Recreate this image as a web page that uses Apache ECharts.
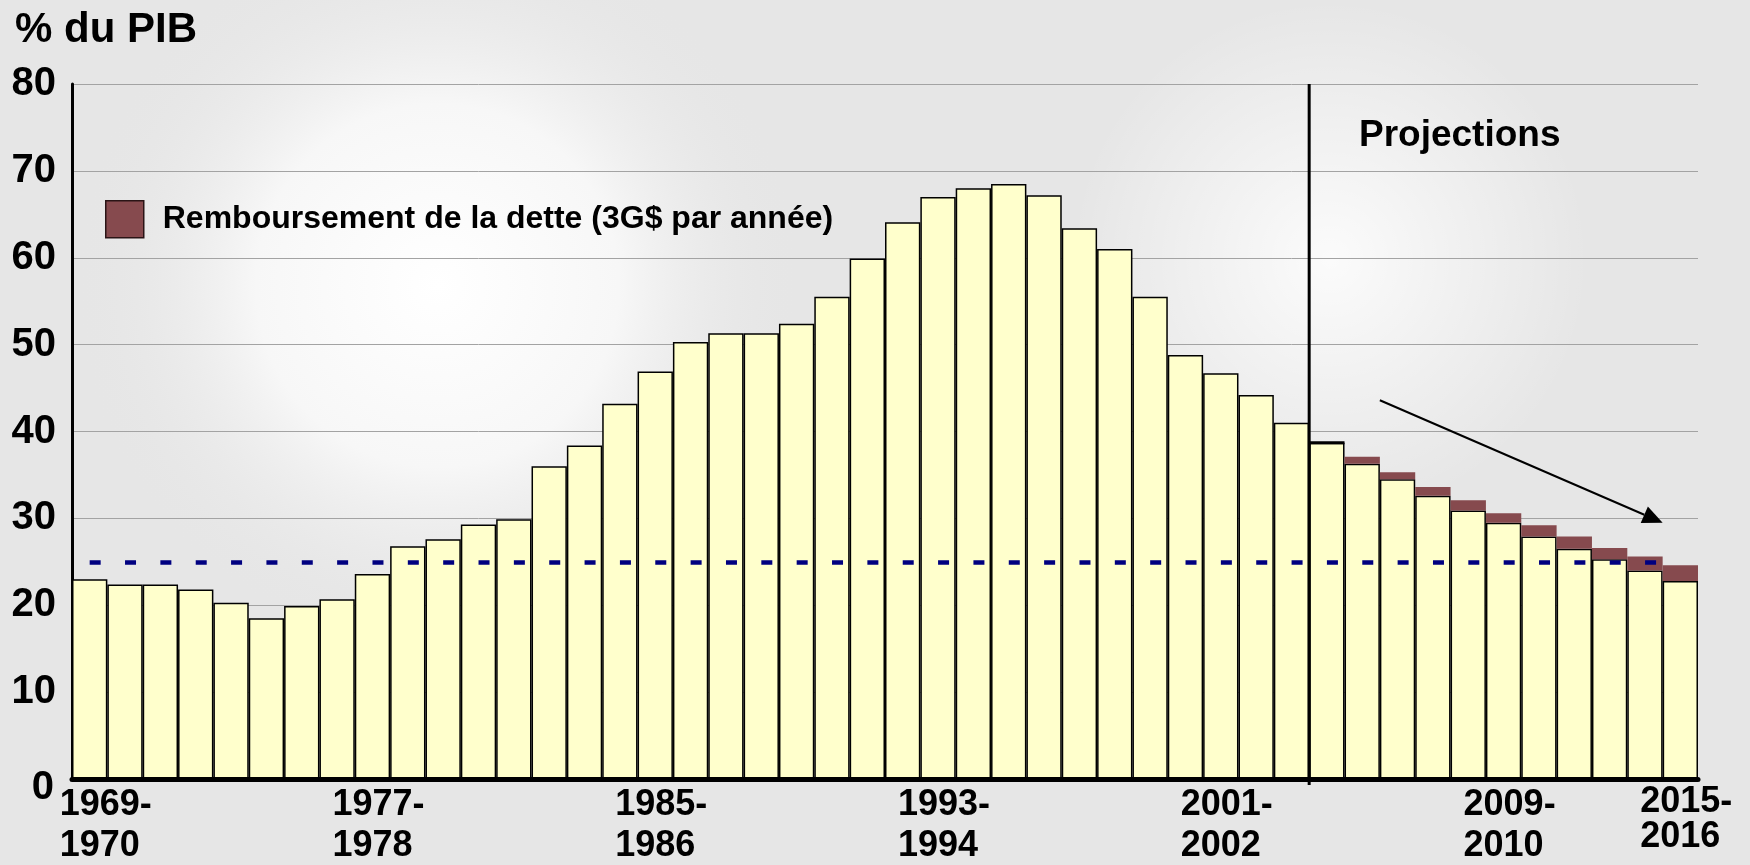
<!DOCTYPE html>
<html>
<head>
<meta charset="utf-8">
<script src="https://cdn.jsdelivr.net/npm/echarts@6/dist/echarts.min.js"></script>
<style>
  html, body { margin: 0; padding: 0; }
  #chart { width: 1750px; height: 865px; }
</style>
</head>
<body>
<div id="chart"></div>
<script>
// fiscal years, one bar each
const categories = [
  '1969-1970', '1970-1971', '1971-1972', '1972-1973', '1973-1974', '1974-1975',
  '1975-1976', '1976-1977', '1977-1978', '1978-1979', '1979-1980', '1980-1981',
  '1981-1982', '1982-1983', '1983-1984', '1984-1985', '1985-1986', '1986-1987',
  '1987-1988', '1988-1989', '1989-1990', '1990-1991', '1991-1992', '1992-1993',
  '1993-1994', '1994-1995', '1995-1996', '1996-1997', '1997-1998', '1998-1999',
  '1999-2000', '2000-2001', '2001-2002', '2002-2003', '2003-2004', '2004-2005',
  '2005-2006', '2006-2007', '2007-2008', '2008-2009', '2009-2010', '2010-2011',
  '2011-2012', '2012-2013', '2013-2014', '2014-2015'
];

// dette en % du PIB
const debtValues = [
  23.0, 22.4, 22.4, 21.8, 20.3, 18.5, 19.9, 20.7, 23.6, 26.8, 27.6, 29.3,
  29.9, 36.0, 38.4, 43.2, 46.9, 50.3, 51.3, 51.3, 52.4, 55.5, 59.9, 64.1,
  67.0, 68.0, 68.5, 67.2, 63.4, 61.0, 55.5, 48.8, 46.7, 44.2, 41.0, 38.7,
  36.3, 34.5, 32.6, 30.9, 29.5, 27.9, 26.5, 25.3, 24.0, 22.8
];

// part due au remboursement de la dette
const repayValues = [
  '-', '-', '-', '-', '-', '-', '-', '-', '-', '-', '-', '-',
  '-', '-', '-', '-', '-', '-', '-', '-', '-', '-', '-', '-',
  '-', '-', '-', '-', '-', '-', '-', '-', '-', '-', '-', '-',
  0.8, 0.8, 1.0, 1.2, 1.1, 1.3, 1.4, 1.3, 1.6, 1.8
];

const targetLevel = 25;

// shown x tick labels
const tickIndex = [0, 8, 16, 24, 32, 40, 45];
const tickText = [['1969-', '1970'], ['1977-', '1978'], ['1985-', '1986'], ['1993-', '1994'],
                  ['2001-', '2002'], ['2009-', '2010'], ['2015-', '2016']];

const repayName = 'Remboursement de la dette (3G$ par année)';
const font = 'Liberation Sans, Arial, sans-serif';

const chart = echarts.init(document.getElementById('chart'));

const labelFont = { fontSize: 36, fontWeight: 'bold', color: '#000', fontFamily: font, align: 'left' };

const option = {
  backgroundColor: '#e6e6e6',
  animation: false,
  title: [
    { text: '% du PIB', left: 10, top: 4,
      textStyle: { fontSize: 42, fontWeight: 'bold', color: '#000', fontFamily: font } },
    { text: 'Projections', left: 1354, top: 112,
      textStyle: { fontSize: 37, fontWeight: 'bold', color: '#000', fontFamily: font } }
  ],
  legend: {
    data: [repayName],
    left: 100, top: 195,
    icon: 'rect',
    itemWidth: 38, itemHeight: 37,
    itemStyle: { borderColor: '#2a1416', borderWidth: 1.5 },
    textStyle: { fontSize: 32, fontWeight: 'bold', color: '#000', fontFamily: font,
                 padding: [0, 0, 0, 14] }
  },
  graphic: [
    { id: 'bg', type: 'rect', z: -100, silent: true,
      shape: { x: 0, y: 0, width: 1750, height: 865 },
      style: { fill: { type: 'radial', x: 0.25, y: 0.33, r: 0.42,
        colorStops: [{ offset: 0, color: '#ffffff' }, { offset: 0.5, color: '#f7f7f7' },
                     { offset: 1, color: 'rgba(230,230,230,0)' }] } } },
    { id: 'bg2', type: 'rect', z: -99, silent: true,
      shape: { x: 0, y: 0, width: 1750, height: 865 },
      style: { fill: { type: 'radial', x: 0.76, y: 0.3, r: 0.3,
        colorStops: [{ offset: 0, color: 'rgba(255,255,255,0.85)' },
                     { offset: 1, color: 'rgba(255,255,255,0)' }] } } }
  ],
  grid: { left: 72, right: 52, top: 84, bottom: 86, containLabel: false, outerBoundsMode: 'none' },
  xAxis: {
    type: 'category',
    data: categories,
    z: 5,
    axisLine: { lineStyle: { color: '#000', width: 5 } },
    axisTick: { show: false },
    axisLabel: {
      interval: 0,
      margin: 6,
      padding: [0, 0, 0, 12],
      fontSize: 36, fontWeight: 'bold', color: '#000', fontFamily: font,
      lineHeight: 41,
      formatter: (v, i) => {
        const k = tickIndex.indexOf(i);
        if (k < 0) return '';
        const s = k === 0 ? 'f' : (k === tickIndex.length - 1 ? 'e' : 'a');
        return '{' + s + '|' + tickText[k][0] + '}\n{' + s + '|' + tickText[k][1] + '}';
      },
      rich: {
        a: Object.assign({ lineHeight: 41 }, labelFont),
        f: Object.assign({ lineHeight: 41, padding: [0, 0, 0, 20] }, labelFont),
        e: Object.assign({ lineHeight: 35 }, labelFont)
      }
    }
  },
  yAxis: {
    type: 'value',
    min: 0, max: 80, interval: 10,
    axisLine: { show: true, lineStyle: { color: '#000', width: 3 } },
    axisTick: { show: false },
    splitLine: { lineStyle: { color: '#a3a3a3', width: 1 } },
    axisLabel: {
      margin: 16, fontSize: 40, fontWeight: 'bold', color: '#000', fontFamily: font,
      formatter: v => (v === 0 ? '{z|0}' : String(v)),
      rich: {
        z: { fontSize: 40, fontWeight: 'bold', color: '#000', fontFamily: font,
             padding: [18, 2, 0, 0] }
      }
    }
  },
  series: [
    {
      name: 'Dette',
      type: 'bar',
      stack: 'dette',
      data: debtValues,
      barCategoryGap: '0%',
      itemStyle: { color: '#ffffcc', borderColor: '#000', borderWidth: 1.5 },
      markLine: {
        silent: true,
        symbol: 'none',
        label: { show: false },
        lineStyle: { color: '#000080', width: 4.5, type: [11, 24.35], opacity: 1 },
        data: [[{ coord: [categories[0], targetLevel] },
                { coord: [categories[categories.length - 1], targetLevel] }]]
      }
    },
    {
      name: repayName,
      type: 'bar',
      stack: 'dette',
      data: repayValues,
      itemStyle: { color: '#864a4e', borderWidth: 0 }
    }
  ]
};

chart.setOption(option);

// separator before the projections and the trend arrow
const px = i => chart.convertToPixel({ xAxisIndex: 0 }, i);
const py = v => chart.convertToPixel({ yAxisIndex: 0 }, v);

const sepX = (px(34) + px(35)) / 2;
const ax0 = [(px(36) + px(37)) / 2, py(43.6)];
const ax1 = [(px(44) + px(45)) / 2, py(29.5)];
const dx = ax1[0] - ax0[0], dy = ax1[1] - ax0[1];
const len = Math.sqrt(dx * dx + dy * dy);
const ux = dx / len, uy = dy / len;
const headL = 20, headW = 9;
const base = [ax1[0] - ux * headL, ax1[1] - uy * headL];

chart.setOption({
  graphic: [
    { id: 'sep', type: 'line', z: 50, silent: true,
      shape: { x1: sepX, y1: py(80), x2: sepX, y2: py(0) + 6 },
      style: { stroke: '#000', lineWidth: 3 } },
    { id: 'topEdge', type: 'line', z: 50, silent: true,
      shape: { x1: sepX, y1: py(debtValues[35]), x2: px(35) + (px(35) - sepX), y2: py(debtValues[35]) },
      style: { stroke: '#000', lineWidth: 3 } },
    { id: 'arrowLine', type: 'line', z: 50, silent: true,
      shape: { x1: ax0[0], y1: ax0[1], x2: base[0], y2: base[1] },
      style: { stroke: '#000', lineWidth: 2 } },
    { id: 'arrowHead', type: 'polygon', z: 50, silent: true,
      shape: { points: [ax1,
        [base[0] - uy * headW, base[1] + ux * headW],
        [base[0] + uy * headW, base[1] - ux * headW]] },
      style: { fill: '#000' } }
  ]
});
</script>
</body>
</html>
